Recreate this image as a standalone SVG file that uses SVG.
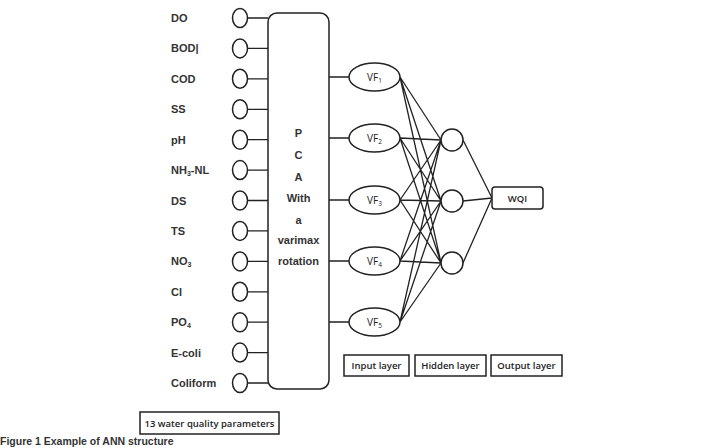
<svg xmlns="http://www.w3.org/2000/svg" width="714" height="448" viewBox="0 0 714 448">
<style>
.ln{stroke:#222;stroke-width:1.3;fill:none}
.nd{stroke:#222;stroke-width:1.5;fill:#fff}
.lab{font-family:"Liberation Sans",Arial,sans-serif;font-size:11px;font-weight:bold;fill:#333}
.pca{font-family:"Liberation Sans",Arial,sans-serif;font-size:11px;font-weight:bold;fill:#333;text-anchor:middle}
.vf{font-family:"Open Sans","Liberation Sans",sans-serif;font-size:10px;fill:#222;text-anchor:middle}
.bx{font-family:"Open Sans","Liberation Sans",sans-serif;font-size:9.5px;font-weight:600;fill:#222;text-anchor:middle}
</style>
<rect width="714" height="448" fill="#fff"/>
<g id="connectors" class="ln">
<path d="M247.5 18H268M247.5 48.4H268M247.5 78.8H268M247.5 109.3H268M247.5 139.7H268M247.5 170.1H268M247.5 200.5H268M247.5 230.9H268M247.5 261.4H268M247.5 291.8H268M247.5 322.2H268M247.5 352.6H268M247.5 383H268"/>
<path d="M329 77H349M329 138H349M329 200H349M329 261H349M329 322H349"/>
<path d="M400 77L441 140M400 77L441 201M400 77L441 263M400 138L441 140M400 138L441 201M400 138L441 263M400 200L441 140M400 200L441 201M400 200L441 263M400 261L441 140M400 261L441 201M400 261L441 263M400 322L441 140M400 322L441 201M400 322L441 263"/>
<path d="M463 140L492 198M463 201L492 198M463 263L492 198"/>
</g>
<g id="inputs">
<g id="in-DO"><ellipse class="nd" cx="240" cy="18" rx="7.5" ry="9.5"/><text class="lab" x="171" y="22">DO</text></g>
<g id="in-BOD"><ellipse class="nd" cx="240" cy="48.4" rx="7.5" ry="9.5"/><text class="lab" x="171" y="52.4">BOD|</text></g>
<g id="in-COD"><ellipse class="nd" cx="240" cy="78.8" rx="7.5" ry="9.5"/><text class="lab" x="171" y="82.8">COD</text></g>
<g id="in-SS"><ellipse class="nd" cx="240" cy="109.3" rx="7.5" ry="9.5"/><text class="lab" x="171" y="113.3">SS</text></g>
<g id="in-pH"><ellipse class="nd" cx="240" cy="139.7" rx="7.5" ry="9.5"/><text class="lab" x="171" y="143.7">pH</text></g>
<g id="in-NH3"><ellipse class="nd" cx="240" cy="170.1" rx="7.5" ry="9.5"/><text class="lab" x="171" y="174.1">NH<tspan font-size="7" dy="2">3</tspan><tspan dy="-2">-NL</tspan></text></g>
<g id="in-DS"><ellipse class="nd" cx="240" cy="200.5" rx="7.5" ry="9.5"/><text class="lab" x="171" y="204.5">DS</text></g>
<g id="in-TS"><ellipse class="nd" cx="240" cy="230.9" rx="7.5" ry="9.5"/><text class="lab" x="171" y="234.9">TS</text></g>
<g id="in-NO3"><ellipse class="nd" cx="240" cy="261.4" rx="7.5" ry="9.5"/><text class="lab" x="171" y="265.4">NO<tspan font-size="7" dy="2">3</tspan></text></g>
<g id="in-Cl"><ellipse class="nd" cx="240" cy="291.8" rx="7.5" ry="9.5"/><text class="lab" x="171" y="295.8">Cl</text></g>
<g id="in-PO4"><ellipse class="nd" cx="240" cy="322.2" rx="7.5" ry="9.5"/><text class="lab" x="171" y="326.2">PO<tspan font-size="7" dy="2">4</tspan></text></g>
<g id="in-Ecoli"><ellipse class="nd" cx="240" cy="352.6" rx="7.5" ry="9.5"/><text class="lab" x="171" y="356.6">E-coli</text></g>
<g id="in-Coliform"><ellipse class="nd" cx="240" cy="383" rx="7.5" ry="9.5"/><text class="lab" x="171" y="387">Coliform</text></g>
</g>
<g id="pca">
<rect class="nd" x="268" y="13" width="61" height="376" rx="9"/>
<text class="pca" x="298.5" y="137">P</text>
<text class="pca" x="298.5" y="159">C</text>
<text class="pca" x="298.5" y="181">A</text>
<text class="pca" x="298.5" y="202">With</text>
<text class="pca" x="298.5" y="224">a</text>
<text class="pca" x="298.5" y="244">varimax</text>
<text class="pca" x="298.5" y="265">rotation</text>
</g>
<g id="vf">
<g id="vf1"><ellipse class="nd" cx="374.5" cy="77" rx="25.5" ry="14"/><text class="vf" x="374.5" y="80.5">VF<tspan font-size="6.5" dy="2">1</tspan></text></g>
<g id="vf2"><ellipse class="nd" cx="374.5" cy="138" rx="25.5" ry="14"/><text class="vf" x="374.5" y="141.5">VF<tspan font-size="6.5" dy="2">2</tspan></text></g>
<g id="vf3"><ellipse class="nd" cx="374.5" cy="200" rx="25.5" ry="14"/><text class="vf" x="374.5" y="203.5">VF<tspan font-size="6.5" dy="2">3</tspan></text></g>
<g id="vf4"><ellipse class="nd" cx="374.5" cy="261" rx="25.5" ry="14"/><text class="vf" x="374.5" y="264.5">VF<tspan font-size="6.5" dy="2">4</tspan></text></g>
<g id="vf5"><ellipse class="nd" cx="374.5" cy="322" rx="25.5" ry="14"/><text class="vf" x="374.5" y="325.5">VF<tspan font-size="6.5" dy="2">5</tspan></text></g>
</g>
<g id="hidden">
<circle id="h1" class="nd" cx="452" cy="140" r="11"/>
<circle id="h2" class="nd" cx="452" cy="201" r="11"/>
<circle id="h3" class="nd" cx="452" cy="263" r="11"/>
</g>
<g id="wqi"><rect class="nd" x="492" y="187" width="51" height="22" rx="3"/><text class="bx" x="517.5" y="201.5">WQI</text></g>
<g id="legend-input"><rect class="nd" x="344" y="355" width="65" height="21"/><text class="bx" x="376.5" y="369">Input layer</text></g>
<g id="legend-hidden"><rect class="nd" x="415" y="355" width="71" height="21"/><text class="bx" x="450.5" y="369">Hidden layer</text></g>
<g id="legend-output"><rect class="nd" x="491" y="355" width="71" height="21"/><text class="bx" x="526.5" y="369">Output layer</text></g>
<g id="params"><rect class="nd" x="140" y="412" width="139" height="22"/><text class="bx" x="209.5" y="426.5">13 water quality parameters</text></g>
<text x="0" y="445" font-family="'Liberation Sans',Arial,sans-serif" font-size="10.5" font-weight="bold" fill="#333">Figure 1 Example of ANN structure</text>
</svg>
